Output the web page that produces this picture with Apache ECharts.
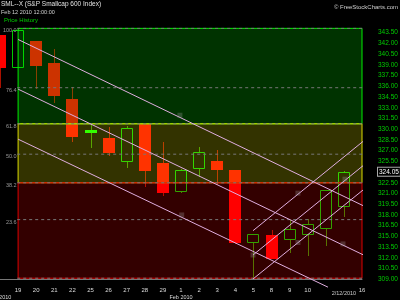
<!DOCTYPE html>
<html>
<head>
<meta charset="utf-8">
<script src="https://cdn.jsdelivr.net/npm/echarts@6/dist/echarts.min.js"></script>
<style>html,body{margin:0;padding:0;background:#000;}#chart{width:400px;height:300px;}</style>
</head>
<body>
<div id="chart"></div>
<script>
// ---- data ----
const categories = ['15','19','20','21','22','25','26','27','28','29','1','2','3','4','5','8','9','10','11','12','16'];
const openVals  = [343.18, 338.52, 342.34, 339.30, 334.22, 329.89, 328.73, 325.45, 330.73, 325.23, 321.21, 324.39, 325.55, 324.29, 314.04, 315.20, 314.50, 315.20, 316.08, 319.07, null];
const closeVals = [338.56, 343.92, 338.88, 334.64, 328.95, 329.43, 326.71, 330.12, 324.15, 321.12, 324.29, 326.77, 324.29, 314.04, 315.30, 311.88, 316.04, 316.78, 321.45, 324.05, null];
const lowVals   = [335.76, 338.52, 335.62, 333.71, 328.17, 327.41, 326.20, 324.53, 321.87, 320.65, 321.10, 323.27, 322.19, 314.00, 309.15, 311.80, 312.64, 312.26, 313.66, 317.67, null];
const highVals  = [343.18, 344.10, 342.34, 341.22, 335.94, 330.77, 330.35, 330.45, 330.73, 328.25, 324.40, 327.55, 327.09, 324.29, 315.30, 315.90, 317.30, 317.39, 321.50, 324.10, null];
const lastPrice = 324.05;

// fibonacci retracement levels (ratio label, price)
const fibLabels = ['100.0', '76.4', '61.8', '50.0', '38.2', '23.6', ''];
const fibPrices = [344.10, 335.80, 330.75, 326.50, 322.50, 317.35, 309.15];

// y axis ticks
const yMin = 309, yMax = 344.25, yStep = 1.5;

// trend lines: [[xIndex, price], [xIndex, price]]
const trendLines = [
  [[1, 342.55], [20.35, 318.95]],
  [[1, 335.60], [20.33, 312.10]],
  [[1, 328.60], [18.12, 307.90]],
  [[13.98, 315.80], [20.33, 328.85]],
  [[13.98, 312.40], [20.33, 325.45]],
  [[13.98, 309.05], [20.33, 322.05]]
];
const anchorMarks = [[9.94, 331.95], [10.04, 318.0], [16.46, 321.05], [16.46, 314.15], [18.95, 313.95], [19.06, 323.0], [13.98, 312.4]];

// ---- chart ----
const chart = echarts.init(document.getElementById('chart'), null, {renderer: 'canvas'});
const FONT = 'Liberation Sans';

const candleData = [];
categories.forEach((c, i) => {
  if (openVals[i] == null) return;
  candleData.push([i, openVals[i], closeVals[i], lowVals[i], highVals[i]]);
});

function renderCandle(params, api) {
  const idx = api.value(0);
  const o = api.value(1), c = api.value(2), l = api.value(3), h = api.value(4);
  const prev = idx > 0 ? closeVals[idx - 1] : null;
  const green = prev != null && c > prev;
  const hollow = c > o;
  const pO = api.coord([idx, o]), pC = api.coord([idx, c]);
  const pL = api.coord([idx, l]), pH = api.coord([idx, h]);
  const w = 12;
  const cx = Math.round(pO[0]);
  const left = cx - w / 2;
  const top = Math.round(Math.min(pO[1], pC[1]));
  const bot = Math.max(Math.round(Math.max(pO[1], pC[1])), top + 2);
  const bodyCol = green ? '#00ff00' : '#ff0000';
  const wickCol = green ? '#2f9000' : '#aa1100';
  const wx = cx + 0.5;
  const children = [];
  if (pH[1] < top) children.push({type: 'line', shape: {x1: wx, y1: Math.round(pH[1]), x2: wx, y2: top}, style: {stroke: wickCol, lineWidth: 1}});
  if (pL[1] > bot) children.push({type: 'line', shape: {x1: wx, y1: bot, x2: wx, y2: Math.round(pL[1])}, style: {stroke: wickCol, lineWidth: 1}});
  if (hollow) {
    children.push({type: 'rect', shape: {x: left + 0.5, y: top + 0.5, width: w - 1, height: bot - top - 1}, style: {fill: 'rgba(0,0,0,0)', stroke: green ? '#00cc00' : '#ff0000', lineWidth: 1}});
  } else {
    children.push({type: 'rect', shape: {x: left, y: top, width: w, height: bot - top}, style: {fill: bodyCol}});
  }
  return {type: 'group', children: children};
}

const bandAreas = [
  [{xAxis: 1, yAxis: fibPrices[0], itemStyle: {color: 'rgba(0,255,0,0.2)', borderColor: '#00ee00', borderWidth: 1}}, {xAxis: 20, yAxis: fibPrices[2]}],
  [{xAxis: 1, yAxis: fibPrices[2], itemStyle: {color: 'rgba(255,255,0,0.2)', borderColor: '#dddd00', borderWidth: 1}}, {xAxis: 20, yAxis: fibPrices[4]}],
  [{xAxis: 1, yAxis: fibPrices[4], itemStyle: {color: 'rgba(255,0,0,0.2)', borderColor: '#dd0000', borderWidth: 1}}, {xAxis: 20, yAxis: fibPrices[6]}]
];

const series = [
  {
    type: 'custom',
    xAxisIndex: 0,
    yAxisIndex: 0,
    renderItem: renderCandle,
    data: candleData,
    encode: {x: 0, y: [1, 2, 3, 4]},
    z: 2,
    clip: false,
    silent: true
  },
  {
    type: 'line',
    xAxisIndex: 1,
    yAxisIndex: 0,
    data: [[0, fibPrices[6]], [20, fibPrices[6]]],
    symbol: 'none',
    lineStyle: {opacity: 0},
    clip: false,
    silent: true,
    z: 1,
    markArea: {silent: true, z: 10, data: bandAreas}
  }
];
// fib level dashed lines
fibPrices.forEach(p => {
  series.push({
    type: 'line', xAxisIndex: 1, yAxisIndex: 0, data: [[0.95, p], [20.45, p]], symbol: 'none', clip: false, silent: true,
    lineStyle: {color: '#777', width: 1, type: [3, 3]}, z: 11
  });
});
// fib level labels
series.push({
  type: 'scatter', xAxisIndex: 1, yAxisIndex: 0, symbolSize: 0, silent: true, z: 12, clip: false,
  data: fibPrices.map((p, i) => [0.92, p, fibLabels[i]]),
  label: {show: true, position: 'left', distance: 0, offset: [0, 2.5], color: '#bbb', fontSize: 5.5, fontFamily: FONT,
    formatter: d => d.data[2]}
});
trendLines.forEach(seg => {
  series.push({
    type: 'line', xAxisIndex: 1, yAxisIndex: 0, data: seg, symbol: 'none', clip: false, silent: true,
    lineStyle: {color: '#dfaedf', width: 1}, z: 20
  });
});
series.push({
  type: 'scatter', xAxisIndex: 1, yAxisIndex: 0, data: anchorMarks, symbol: 'rect', symbolSize: 5,
  itemStyle: {color: 'rgba(170,170,170,0.35)'}, z: 21, silent: true
});

const option = {
  backgroundColor: '#000',
  animation: false,
  textStyle: {fontFamily: FONT},
  title: [
    {text: 'SML--X (S&P Smallcap 600 Index)', left: 1, top: 1, padding: 0, textStyle: {color: '#e0e0e0', fontSize: 6.5, fontWeight: 'normal', fontFamily: FONT}},
    {text: 'Feb 12 2010 12:00:00', left: 1, top: 9, padding: 0, textStyle: {color: '#d0d0d0', fontSize: 5.5, fontWeight: 'normal', fontFamily: FONT}},
    {text: 'Price History', left: 4, top: 17, padding: 0, textStyle: {color: '#00cc00', fontSize: 6, fontWeight: 'normal', fontFamily: FONT}},
    {text: '\u00a9 FreeStockCharts.com', right: 2, top: 4, padding: 0, textStyle: {color: '#d0d0d0', fontSize: 6, fontWeight: 'normal', fontFamily: FONT}}
  ],
  grid: {left: 0, right: 38, top: 27.3, bottom: 20.7, containLabel: false, outerBoundsMode: 'none'},
  xAxis: [
    {
      type: 'category', data: categories, boundaryGap: false,
      axisLine: {show: true, lineStyle: {color: '#777', width: 1}},
      axisTick: {show: false},
      splitLine: {show: false},
      axisLabel: {
        interval: 0, margin: 8, color: '#ddd', fontSize: 6, fontFamily: FONT,
        formatter: function (val, idx) {
          if (idx === 0) return '{d| }\n{m|Jan 2010}';
          if (idx === 18 || idx === 19) return '';
          if (idx === 10) return '{d|' + val + '}\n{m|Feb 2010}';
          return '{d|' + val + '}';
        },
        rich: {
          d: {fontSize: 6, lineHeight: 7, color: '#ddd', fontFamily: FONT},
          m: {fontSize: 5.5, lineHeight: 6.5, color: '#ddd', fontFamily: FONT}
        }
      },
      axisPointer: {
        show: true, type: 'line', value: 19, status: 'show', triggerTooltip: false,
        lineStyle: {opacity: 0, width: 0},
        label: {show: true, formatter: '2/12/2010', margin: 11, color: '#ccc', backgroundColor: 'rgba(0,0,0,0)', padding: 0, fontSize: 5.5, fontFamily: FONT}
      }
    },
    {type: 'value', min: 0, max: 20, show: false, gridIndex: 0}
  ],
  yAxis: {
    type: 'value', position: 'right', min: yMin, max: yMax, interval: yStep, scale: true,
    axisLine: {show: false}, axisTick: {show: false}, splitLine: {show: false},
    axisLabel: {
      margin: 16, color: '#00cc00', fontSize: 6.5, fontFamily: FONT, showMaxLabel: false,
      formatter: v => v.toFixed(2)
    },
    axisPointer: {
      show: true, type: 'line', value: lastPrice, status: 'show', triggerTooltip: false,
      lineStyle: {opacity: 0, width: 0},
      label: {show: true, formatter: p => p.value.toFixed(2), margin: 16, color: '#fff', backgroundColor: '#000', borderColor: '#aaa', borderWidth: 1, borderRadius: 0, padding: [1, 1, 0, 1], fontSize: 6.5, fontFamily: FONT}
    }
  },
  series: series
};
chart.setOption(option);
</script>
</body>
</html>
